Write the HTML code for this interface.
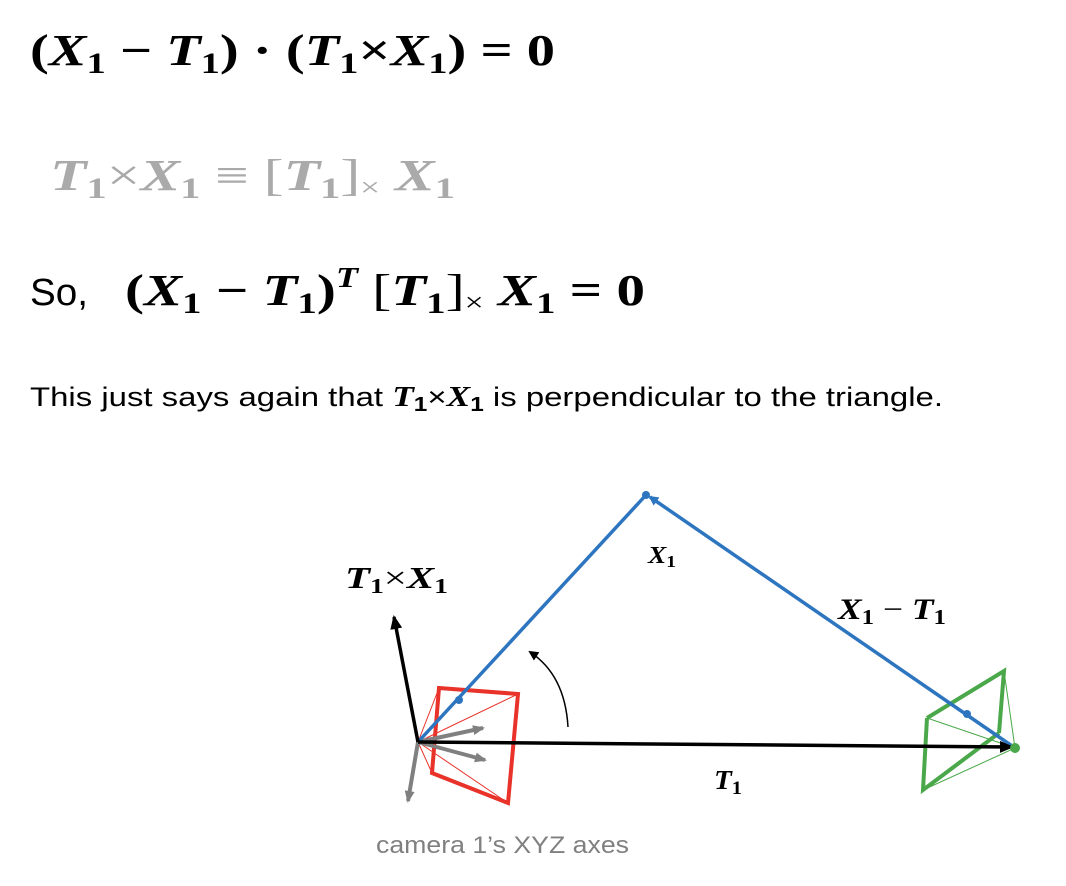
<!DOCTYPE html>
<html><head><meta charset="utf-8"><style>
html,body{margin:0;padding:0;background:#fff;width:1066px;height:886px;overflow:hidden}
svg{display:block}
.m{font-family:"Liberation Serif",serif;font-weight:bold;font-style:italic}
.u{font-style:normal}
</style></head><body>
<svg width="1066" height="886" viewBox="0 0 1066 886">
<defs>
<marker id="ab" markerWidth="10" markerHeight="10" refX="8" refY="5" orient="auto" markerUnits="userSpaceOnUse"><path d="M0,0 L10,5 L0,10z" fill="#2e75c0"/></marker>
<marker id="ak" markerWidth="14" markerHeight="12" refX="12" refY="6" orient="auto" markerUnits="userSpaceOnUse"><path d="M0,0 L14,6 L0,12z" fill="#000"/></marker>
<marker id="ag" markerWidth="12" markerHeight="10" refX="10" refY="5" orient="auto" markerUnits="userSpaceOnUse"><path d="M0,0 L12,5 L0,10z" fill="#808080"/></marker>
<marker id="as" markerWidth="10" markerHeight="10" refX="8" refY="5" orient="auto" markerUnits="userSpaceOnUse"><path d="M0,0 L10,5 L0,10z" fill="#000"/></marker>
</defs>

<text class="m" x="30" y="65" font-size="44" textLength="525" lengthAdjust="spacingAndGlyphs"><tspan class="u">(</tspan>X<tspan class="u" font-size="30" dy="8">1</tspan><tspan class="u" dy="-8"> − </tspan>T<tspan class="u" font-size="30" dy="8">1</tspan><tspan class="u" dy="-8">) · (</tspan>T<tspan class="u" font-size="30" dy="8">1</tspan><tspan class="u" dy="-8">×</tspan>X<tspan class="u" font-size="30" dy="8">1</tspan><tspan class="u" dy="-8">) = 0</tspan></text>

<text class="m" x="50" y="190" font-size="44" fill="#aaaaaa" textLength="405" lengthAdjust="spacingAndGlyphs">T<tspan class="u" font-size="30" dy="8">1</tspan><tspan class="u" dy="-8" font-weight="normal">×</tspan>X<tspan class="u" font-size="30" dy="8">1</tspan><tspan class="u" dy="-8" font-weight="normal"> ≡ [</tspan>T<tspan class="u" font-size="30" dy="8">1</tspan><tspan class="u" dy="-8" font-weight="normal">]</tspan><tspan class="u" font-size="26" dy="6" font-weight="normal">×</tspan><tspan dy="-6">  X</tspan><tspan class="u" font-size="30" dy="8">1</tspan></text>

<text x="30" y="305" font-family="Liberation Sans,sans-serif" font-size="38" textLength="58" lengthAdjust="spacingAndGlyphs">So,</text>
<text class="m" x="125" y="305" font-size="44" textLength="520" lengthAdjust="spacingAndGlyphs"><tspan class="u">(</tspan>X<tspan class="u" font-size="30" dy="8">1</tspan><tspan class="u" dy="-8"> − </tspan>T<tspan class="u" font-size="30" dy="8">1</tspan><tspan class="u" dy="-8">)</tspan><tspan font-size="28" dy="-18">T</tspan><tspan class="u" dy="18" font-weight="normal"> [</tspan>T<tspan class="u" font-size="30" dy="8">1</tspan><tspan class="u" dy="-8" font-weight="normal">]</tspan><tspan class="u" font-size="26" dy="6" font-weight="normal">×</tspan><tspan dy="-6"> X</tspan><tspan class="u" font-size="30" dy="8">1</tspan><tspan class="u" dy="-8"> = 0</tspan></text>

<text x="30" y="406" font-family="Liberation Sans,sans-serif" font-size="27" textLength="913" lengthAdjust="spacingAndGlyphs">This just says again that <tspan class="m" font-size="29">T</tspan><tspan font-weight="bold" font-size="20" dy="5">1</tspan><tspan dy="-5">×</tspan><tspan class="m" font-size="29">X</tspan><tspan font-weight="bold" font-size="20" dy="5">1</tspan><tspan dy="-5">  is perpendicular to the triangle.</tspan></text>

<g stroke="#e8322a" fill="none">
<polygon points="439,688 518,694 508,803 432,773" stroke-width="4"/>
<path d="M418,742 L439,688 M418,742 L518,694 M418,742 L508,803 M418,742 L432,773" stroke-width="1"/>
</g>
<g stroke="#4aa84a" fill="none">
<path d="M927,718 L1004,671 L999,733 M927,718 L923,790 L999,733" stroke-width="4"/>
<path d="M1015,748 L927,718 M1015,748 L1004,671 M1015,748 L923,790" stroke-width="1"/>
</g>
<g stroke="#808080" stroke-width="4">
<line x1="418" y1="742" x2="483" y2="728" marker-end="url(#ag)"/>
<line x1="418" y1="742" x2="485" y2="760" marker-end="url(#ag)"/>
<line x1="418" y1="742" x2="408" y2="801" marker-end="url(#ag)"/>
</g>
<line x1="418" y1="742" x2="646" y2="495" stroke="#2e75c0" stroke-width="3.5"/>
<line x1="1015" y1="748" x2="650" y2="497" stroke="#2e75c0" stroke-width="3.5" marker-end="url(#ab)"/>
<circle cx="646" cy="495" r="4" fill="#2e75c0"/>
<circle cx="459" cy="700" r="4" fill="#2e75c0"/>
<circle cx="967" cy="714" r="4" fill="#2e75c0"/>
<line x1="418" y1="742" x2="1012" y2="747" stroke="#000" stroke-width="3.5" marker-end="url(#ak)"/>
<circle cx="1015" cy="748" r="5" fill="#4aa84a"/>
<line x1="418" y1="742" x2="394" y2="617" stroke="#000" stroke-width="3.5" marker-end="url(#ak)"/>
<path d="M568,727 Q565,675 530,652" fill="none" stroke="#000" stroke-width="1.5" marker-end="url(#as)"/>

<text class="m" x="345" y="588" font-size="31" textLength="103" lengthAdjust="spacingAndGlyphs">T<tspan class="u" font-size="21" dy="5">1</tspan><tspan class="u" dy="-5" font-weight="normal">×</tspan>X<tspan class="u" font-size="21" dy="5">1</tspan></text>
<text class="m" x="648" y="563" font-size="24" textLength="28" lengthAdjust="spacingAndGlyphs">X<tspan class="u" font-size="17" dy="4">1</tspan></text>
<text class="m" x="838" y="619" font-size="30" textLength="108" lengthAdjust="spacingAndGlyphs">X<tspan class="u" font-size="21" dy="5">1</tspan><tspan class="u" dy="-5" font-weight="normal"> − </tspan>T<tspan class="u" font-size="21" dy="5">1</tspan></text>
<text class="m" x="714" y="789" font-size="27" textLength="28" lengthAdjust="spacingAndGlyphs">T<tspan class="u" font-size="19" dy="5">1</tspan></text>
<text x="376" y="853" font-family="Liberation Sans,sans-serif" font-size="24" fill="#808080" textLength="253" lengthAdjust="spacingAndGlyphs">camera 1’s XYZ axes</text>
</svg>
</body></html>
